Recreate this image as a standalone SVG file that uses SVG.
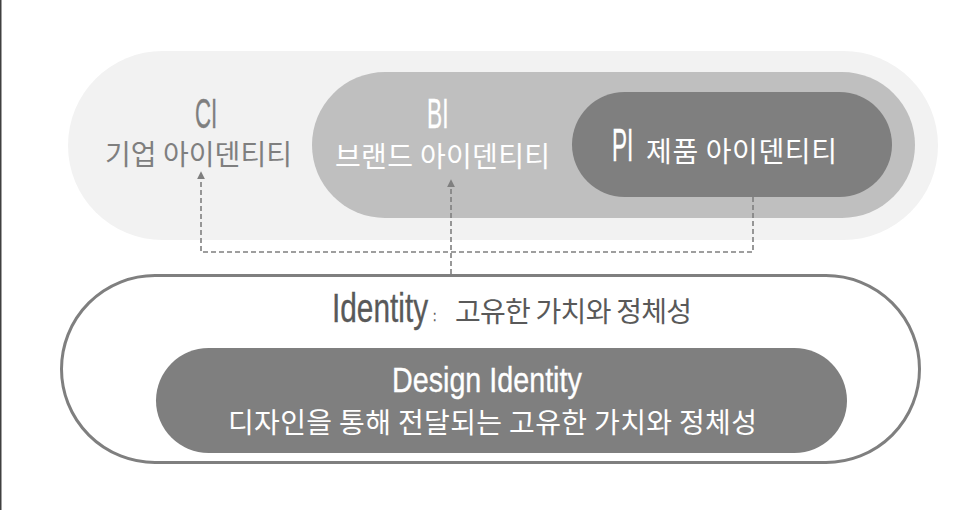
<svg xmlns="http://www.w3.org/2000/svg" width="979" height="510" viewBox="0 0 979 510">
<defs>
<style>
.lat{font-family:"Liberation Sans","DejaVu Sans",sans-serif;stroke-width:0.35;}
.kr{font-family:"Noto Sans CJK KR","Noto Sans",sans-serif;font-size:28px;}
.w{fill:#ffffff;}
.lat.w{stroke:#ffffff;}
.g{fill:#7f7f7f;}
.lat.g{stroke:#7f7f7f;}
.d{fill:#595959;}
.lat.d{stroke:#595959;}
.conn{fill:none;stroke:#7f7f7f;stroke-width:1.6;stroke-dasharray:5 3;}
</style>
<marker id="ah" viewBox="0 0 10 10" refX="9" refY="5" markerWidth="8" markerHeight="8" markerUnits="userSpaceOnUse" orient="auto">
<path d="M0,0 L10,5 L0,10 Z" fill="#7f7f7f"/>
</marker>
</defs>
<rect x="0" y="0" width="979" height="510" fill="#ffffff"/>
<rect x="0" y="0" width="1.5" height="510" fill="#404040"/>

<g id="ci">
<rect x="68" y="51" width="870" height="189" rx="94.5" fill="#f2f2f2"/>
<text class="lat g" transform="translate(195,128) scale(0.53,1)" font-size="42">CI</text>
<text class="kr g" x="105" y="165" textLength="187" lengthAdjust="spacing">기업 아이덴티티</text>
</g>

<g id="bi">
<rect x="312" y="72" width="603" height="146" rx="73" fill="#bfbfbf"/>
<text class="lat w" transform="translate(427,128) scale(0.54,1)" font-size="42">BI</text>
<text class="kr w" x="335" y="167" textLength="215" lengthAdjust="spacing">브랜드 아이덴티티</text>
</g>

<g id="pi">
<rect x="572" y="92" width="320" height="105" rx="52.5" fill="#7f7f7f"/>
<text class="lat w" transform="translate(612,161) scale(0.49,1)" font-size="46">PI</text>
<text class="kr w" x="646" y="162" textLength="191" lengthAdjust="spacing">제품 아이덴티티</text>
</g>

<g id="identity">
<rect x="61.5" y="275.5" width="858" height="187" rx="93.5" fill="#ffffff" stroke="#7f7f7f" stroke-width="3"/>
<text class="lat d" transform="translate(332,322) scale(0.745,1)" font-size="40">Identity</text>
<text class="lat d" transform="translate(433,321) scale(0.8,1)" font-size="15" stroke-width="0.3">:</text>
<text class="kr d" x="455" y="322" textLength="237" lengthAdjust="spacing">고유한 가치와 정체성</text>
</g>

<g id="design-identity">
<rect x="156" y="348" width="691" height="105" rx="52.5" fill="#7f7f7f"/>
<text class="lat w" transform="translate(392,392) scale(0.82,1)" font-size="35">Design Identity</text>
<text class="kr w" x="228" y="433" textLength="529" lengthAdjust="spacing">디자인을 통해 전달되는 고유한 가치와 정체성</text>
</g>

<g id="connectors">
<path class="conn" d="M753,197 L753,252 L201,252 L201,172" marker-end="url(#ah)"/>
<path class="conn" d="M451,274 L451,180" marker-end="url(#ah)"/>
</g>
</svg>
